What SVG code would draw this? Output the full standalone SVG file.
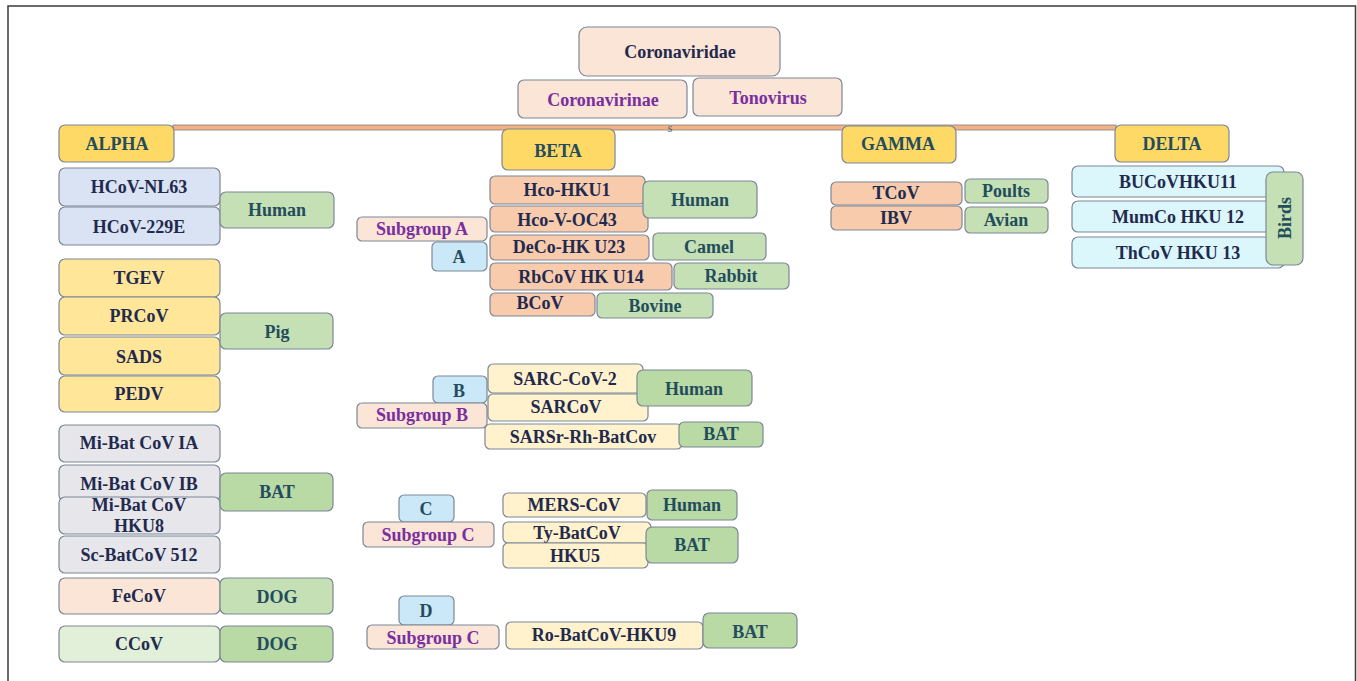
<svg xmlns="http://www.w3.org/2000/svg" width="1357" height="681" viewBox="0 0 1357 681">
<style>
rect.n{stroke:#7d8797;stroke-width:1.2}
text{font-family:"Liberation Serif","Times New Roman",serif;font-weight:bold;font-size:18px;text-anchor:middle;dominant-baseline:central;fill:#1f2a4e}
text.p{fill:#7a2fa0}
text.g{fill:#234c5c}
.pe{fill:#fbe5d6}.hy{fill:#ffd966}.bl{fill:#dae3f3}.ye{fill:#ffe699}.gr{fill:#e7e6eb}
.lg{fill:#e2f0d9}.gn{fill:#c5e0b4}.gd{fill:#b9d9a5}.sa{fill:#f8cbad}.py{fill:#fff2cc}.lb{fill:#cbe8f8}.cy{fill:#dcf7fb}
</style>
<rect x="8" y="6" width="1347.5" height="700" fill="#fff" stroke="#3a3a3a" stroke-width="1.5"/>
<g id="connectors">
<rect x="173" y="125" width="943" height="5" fill="#f4b183" stroke="#7f7f7f" stroke-width="0.8"/>
<text x="670" y="128" style="font-size:12px;font-weight:normal;fill:#556070">s</text>
</g>
<g id="coronaviridae"><rect class="n pe" x="579" y="27" width="201" height="49" rx="8"/><text x="680" y="52">Coronaviridae</text></g>
<g id="coronavirinae"><rect class="n pe" x="518" y="80" width="169" height="38" rx="6"/><text class="p" x="603" y="100">Coronavirinae</text></g>
<g id="tonovirus"><rect class="n pe" x="693" y="78" width="149" height="38" rx="6"/><text class="p" x="768" y="98">Tonovirus</text></g>
<g id="alpha"><rect class="n hy" x="59" y="125" width="115" height="37" rx="6"/><text class="g" x="117" y="144">ALPHA</text></g>
<g id="beta"><rect class="n hy" x="502" y="129" width="113" height="41" rx="6"/><text class="g" x="558" y="151">BETA</text></g>
<g id="gamma"><rect class="n hy" x="842" y="126" width="114" height="37" rx="6"/><text class="g" x="898" y="144">GAMMA</text></g>
<g id="delta"><rect class="n hy" x="1115" y="125" width="114" height="37" rx="6"/><text class="g" x="1172" y="144">DELTA</text></g>

<g id="hcov-nl63"><rect class="n bl" x="59" y="168" width="161" height="38" rx="6"/><text x="139" y="187">HCoV-NL63</text></g>
<g id="hcov-229e"><rect class="n bl" x="59" y="207" width="161" height="38" rx="6"/><text x="139" y="227">HCoV-229E</text></g>
<g id="alpha-human"><rect class="n gn" x="220" y="192" width="114" height="36" rx="6"/><text class="g" x="277" y="210">Human</text></g>
<g id="tgev"><rect class="n ye" x="59" y="259" width="161" height="38" rx="6"/><text x="139" y="278">TGEV</text></g>
<g id="prcov"><rect class="n ye" x="59" y="297" width="161" height="38" rx="6"/><text x="139" y="316">PRCoV</text></g>
<g id="sads"><rect class="n ye" x="59" y="337" width="161" height="38" rx="6"/><text x="139" y="357">SADS</text></g>
<g id="pedv"><rect class="n ye" x="59" y="376" width="161" height="36" rx="6"/><text x="139" y="394">PEDV</text></g>
<g id="pig"><rect class="n gn" x="220" y="313" width="113" height="36" rx="6"/><text class="g" x="277" y="332">Pig</text></g>
<g id="mibat-ia"><rect class="n gr" x="59" y="425" width="161" height="37" rx="6"/><text x="139" y="443">Mi-Bat CoV IA</text></g>
<g id="mibat-ib"><rect class="n gr" x="59" y="465" width="161" height="36" rx="6"/><text x="139" y="484">Mi-Bat CoV IB</text></g>
<g id="mibat-hku8"><rect class="n gr" x="59" y="497" width="161" height="37" rx="6"/><text x="139" y="505">Mi-Bat CoV</text><text x="139" y="526">HKU8</text></g>
<g id="sc-batcov"><rect class="n gr" x="59" y="536" width="161" height="37" rx="6"/><text x="139" y="555">Sc-BatCoV 512</text></g>
<g id="alpha-bat"><rect class="n gd" x="220" y="473" width="113" height="38" rx="6"/><text class="g" x="277" y="492">BAT</text></g>
<g id="fecov"><rect class="n pe" x="59" y="578" width="161" height="36" rx="6"/><text x="139" y="596">FeCoV</text></g>
<g id="dog1"><rect class="n gn" x="220" y="578" width="113" height="36" rx="6"/><text class="g" x="277" y="597">DOG</text></g>
<g id="ccov"><rect class="n lg" x="59" y="626" width="161" height="36" rx="6"/><text x="139" y="644">CCoV</text></g>
<g id="dog2"><rect class="n gd" x="220" y="626" width="113" height="36" rx="6"/><text class="g" x="277" y="644">DOG</text></g>

<g id="hco-hku1"><rect class="n sa" x="490" y="176" width="155" height="28" rx="5"/><text x="567" y="190">Hco-HKU1</text></g>
<g id="hco-oc43"><rect class="n sa" x="490" y="206" width="158" height="26" rx="5"/><text x="567" y="220">Hco-V-OC43</text></g>
<g id="beta-human"><rect class="n gn" x="643" y="181" width="114" height="37" rx="6"/><text class="g" x="700" y="200">Human</text></g>
<g id="subgroup-a"><rect class="n pe" x="357" y="217" width="130" height="24" rx="5"/><text class="p" x="422" y="229">Subgroup A</text></g>
<g id="a"><rect class="n lb" x="432" y="242" width="55" height="29" rx="5"/><text class="g" x="459" y="257">A</text></g>
<g id="deco"><rect class="n sa" x="490" y="235" width="159" height="25" rx="5"/><text x="569" y="247">DeCo-HK U23</text></g>
<g id="camel"><rect class="n gn" x="653" y="233" width="113" height="27" rx="5"/><text class="g" x="709" y="247">Camel</text></g>
<g id="rbcov"><rect class="n sa" x="490" y="263" width="182" height="27" rx="5"/><text x="581" y="277">RbCoV HK U14</text></g>
<g id="rabbit"><rect class="n gn" x="674" y="263" width="115" height="26" rx="5"/><text class="g" x="731" y="276">Rabbit</text></g>
<g id="bcov"><rect class="n sa" x="490" y="293" width="105" height="23" rx="5"/><text x="540" y="303">BCoV</text></g>
<g id="bovine"><rect class="n gn" x="597" y="293" width="116" height="25" rx="5"/><text class="g" x="655" y="306">Bovine</text></g>

<g id="sarc-cov-2"><rect class="n py" x="488" y="364" width="155" height="29" rx="5"/><text x="565" y="379">SARC-CoV-2</text></g>
<g id="sarcov"><rect class="n py" x="488" y="394" width="160" height="27" rx="5"/><text x="566" y="407">SARCoV</text></g>
<g id="beta-b-human"><rect class="n gd" x="637" y="370" width="115" height="36" rx="6"/><text class="g" x="694" y="389">Human</text></g>
<g id="b"><rect class="n lb" x="433" y="376" width="54" height="27" rx="5"/><text class="g" x="459" y="391">B</text></g>
<g id="subgroup-b"><rect class="n pe" x="357" y="403" width="130" height="25" rx="5"/><text class="p" x="422" y="415">Subgroup B</text></g>
<g id="sarsr"><rect class="n py" x="485" y="424" width="197" height="25" rx="5"/><text x="583" y="437">SARSr-Rh-BatCov</text></g>
<g id="beta-b-bat"><rect class="n gd" x="679" y="422" width="84" height="25" rx="5"/><text class="g" x="721" y="434">BAT</text></g>

<g id="c"><rect class="n lb" x="399" y="495" width="55" height="27" rx="5"/><text class="g" x="426" y="509">C</text></g>
<g id="subgroup-c"><rect class="n pe" x="363" y="522" width="131" height="25" rx="5"/><text class="p" x="428" y="535">Subgroup C</text></g>
<g id="mers"><rect class="n py" x="503" y="493" width="143" height="24" rx="5"/><text x="574" y="505">MERS-CoV</text></g>
<g id="beta-c-human"><rect class="n gd" x="647" y="490" width="90" height="30" rx="5"/><text class="g" x="692" y="505">Human</text></g>
<g id="ty-batcov"><rect class="n py" x="503" y="522" width="148" height="21" rx="5"/><text x="577" y="533">Ty-BatCoV</text></g>
<g id="hku5"><rect class="n py" x="503" y="543" width="145" height="25" rx="5"/><text x="575" y="556">HKU5</text></g>
<g id="beta-c-bat"><rect class="n gd" x="646" y="527" width="92" height="36" rx="6"/><text class="g" x="692" y="545">BAT</text></g>

<g id="d"><rect class="n lb" x="399" y="596" width="55" height="29" rx="5"/><text class="g" x="426" y="611">D</text></g>
<g id="subgroup-c2"><rect class="n pe" x="367" y="625" width="132" height="24" rx="5"/><text class="p" x="433" y="638">Subgroup C</text></g>
<g id="ro-batcov"><rect class="n py" x="506" y="622" width="197" height="27" rx="5"/><text x="604" y="635">Ro-BatCoV-HKU9</text></g>
<g id="beta-d-bat"><rect class="n gd" x="703" y="613" width="94" height="35" rx="6"/><text class="g" x="750" y="632">BAT</text></g>

<g id="tcov"><rect class="n sa" x="831" y="182" width="131" height="23" rx="5"/><text x="896" y="193">TCoV</text></g>
<g id="ibv"><rect class="n sa" x="831" y="206" width="131" height="24" rx="5"/><text x="896" y="218">IBV</text></g>
<g id="poults"><rect class="n gn" x="965" y="179" width="83" height="24" rx="5"/><text class="g" x="1006" y="191">Poults</text></g>
<g id="avian"><rect class="n gn" x="965" y="207" width="83" height="26" rx="5"/><text class="g" x="1006" y="220">Avian</text></g>

<g id="bucov"><rect class="n cy" x="1072" y="166" width="212" height="31" rx="6"/><text x="1178" y="182">BUCoVHKU11</text></g>
<g id="mumco"><rect class="n cy" x="1072" y="201" width="212" height="31" rx="6"/><text x="1178" y="217">MumCo HKU 12</text></g>
<g id="thcov"><rect class="n cy" x="1072" y="237" width="212" height="31" rx="6"/><text x="1178" y="253">ThCoV HKU 13</text></g>
<g id="birds"><rect class="n gn" x="1266" y="172" width="37" height="93" rx="7"/><text class="g" x="1285" y="218" transform="rotate(-90 1285 218)">Birds</text></g>
</svg>
